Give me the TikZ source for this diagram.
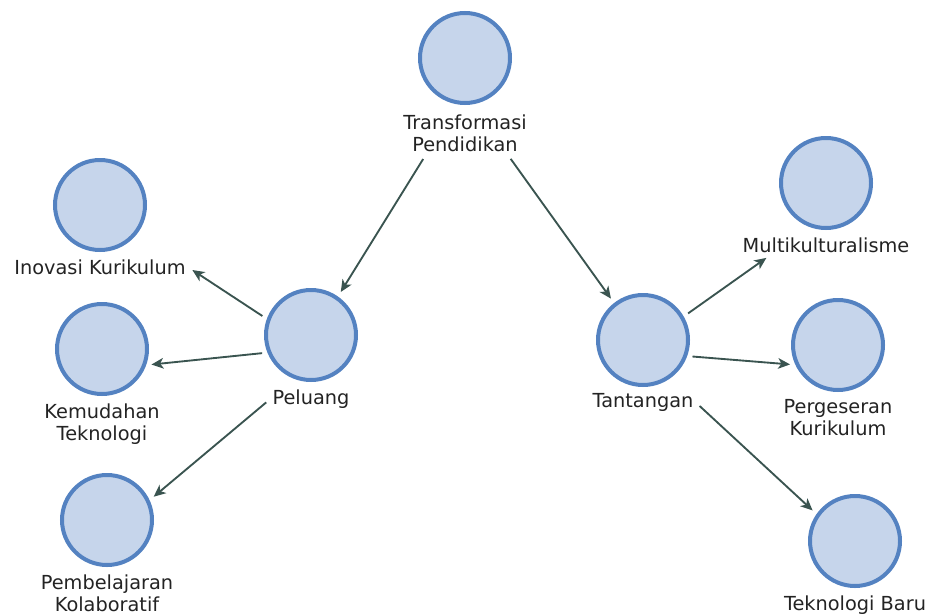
\documentclass[tikz,border=0pt]{standalone}
\usepackage{fontspec}
\setmainfont{DejaVu Sans}
\usetikzlibrary{positioning,arrows.meta}
\definecolor{bubblefill}{RGB}{198,213,235}
\definecolor{bubbleline}{RGB}{84,130,193}
\definecolor{linkcol}{RGB}{58,84,80}
\definecolor{textcol}{RGB}{35,35,35}

\begin{document}
\begin{tikzpicture}[x=0.75pt,y=-0.75pt,
  bubble/.style={circle,fill=bubblefill,draw=bubbleline,line width=3pt,minimum size=67.5pt,inner sep=0pt},
  caption/.style={inner sep=1.5pt,align=center,text=textcol,font=\fontsize{14.5}{16.5}\selectfont},
  link/.style={draw=linkcol,line width=1.4pt,-{Stealth[length=9pt,width=8pt,inset=2.5pt]},shorten <=4pt,shorten >=4pt}]
\useasboundingbox (0,0) rectangle (930,614);

\node[bubble] (trans) at (465,58) {};
\node[caption,below=6pt of trans] (trans-lbl) {Transformasi\\Pendidikan};
\node[bubble] (peluang) at (311,335) {};
\node[caption,below=4pt of peluang] (peluang-lbl) {Peluang};
\node[bubble] (tantangan) at (643,340) {};
\node[caption,below=3pt of tantangan] (tantangan-lbl) {Tantangan};

\node[bubble] (inovasi) at (100,205) {};
\node[caption,below=4pt of inovasi] (inovasi-lbl) {Inovasi Kurikulum};
\node[bubble] (kemudahan) at (102,349) {};
\node[caption,below=4pt of kemudahan] (kemudahan-lbl) {Kemudahan\\Teknologi};
\node[bubble] (kolaborasi) at (107,520) {};
\node[caption,below=4pt of kolaborasi] (kolaborasi-lbl) {Pembelajaran\\Kolaboratif};

\node[bubble] (multi) at (826,183) {};
\node[caption,below=4pt of multi] (multi-lbl) {Multikulturalisme};
\node[bubble] (pergeseran) at (838,345) {};
\node[caption,below=4pt of pergeseran] (pergeseran-lbl) {Pergeseran\\Kurikulum};
\node[bubble] (tekbaru) at (855,541) {};
\node[caption,below=4pt of tekbaru] (tekbaru-lbl) {Teknologi Baru};

% links
\draw[link] (trans-lbl.208) -- (peluang.55);
\draw[link] (trans-lbl.334) -- (tantangan.128);
\draw[link] (peluang.160) -- (inovasi-lbl.east);
\draw[link] (peluang.202) -- (kemudahan.340);
\draw[link] (peluang-lbl.west) -- (kolaborasi.25);
\draw[link] (tantangan.30) -- (multi-lbl.190);
\draw[link] (tantangan.340) -- (pergeseran.205);
\draw[link] (tantangan-lbl.east) -- (tekbaru.145);
\end{tikzpicture}
\end{document}
